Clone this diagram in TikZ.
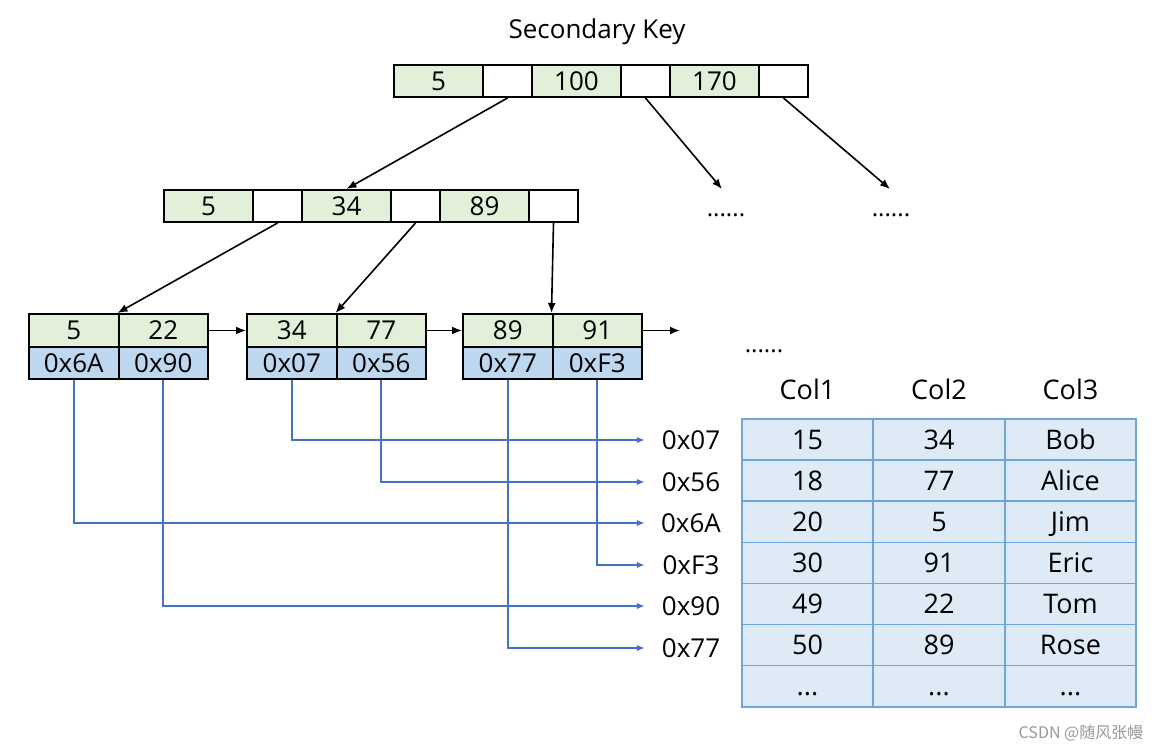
\documentclass[tikz,border=0pt]{standalone}
\usepackage{fontspec}
\setmainfont{Open Sans}
\newfontfamily\cjkfont{Noto Sans CJK SC}
\usetikzlibrary{arrows.meta}
\definecolor{kgreen}{HTML}{E2F0D9}
\definecolor{pblue}{HTML}{BDD7EE}
\definecolor{tfill}{HTML}{DEEBF7}
\definecolor{tline}{HTML}{6FA5DA}
\definecolor{lblue}{HTML}{4472C4}
\begin{document}
\begin{tikzpicture}[x=1pt,y=-1pt,
  base/.style={inner sep=0pt, text height=18.6pt, text depth=0pt, font=\fontsize{26}{30}\selectfont},
  kcell/.style={base, draw=black, line width=2pt, fill=kgreen, minimum width=89pt, minimum height=32pt},
  pcell/.style={base, draw=black, line width=2pt, fill=white, minimum width=49pt, minimum height=32pt},
  lkey/.style={base, draw=black, line width=2pt, fill=kgreen, minimum width=89.5pt, minimum height=33pt},
  lptr/.style={base, draw=black, line width=2pt, fill=pblue, minimum width=89.5pt, minimum height=32pt},
  big/.style={base, text height=19.3pt, font=\fontsize{27}{30}\selectfont},
  tcell/.style={big, draw=tline, line width=1.6pt, fill=tfill, minimum width=131.3pt, minimum height=41.1pt},
  lab/.style={base, minimum width=92pt},
  dots/.style={base, text height=17.1pt, font=\fontsize{24}{28}\selectfont},
  arr/.style={line width=1.6pt, -{Latex[length=10pt,width=8pt]}},
  barr/.style={draw=lblue, line width=1.8pt, -{Latex[length=8pt,width=6.5pt]}}
]
\useasboundingbox (0,0) rectangle (1163,752);
\fill[white] (0,0) rectangle (1163,752);

% title
\node[base, text height=18pt, font=\fontsize{26}{30}\selectfont] (title) at (597,29.5) {Secondary Key};

% root node
\node[kcell] (t-k1) at (438.5,81) {5};
\node[pcell] (t-p1) at (507.5,81) {};
\node[kcell] (t-k2) at (576.5,81) {100};
\node[pcell] (t-p2) at (645.5,81) {};
\node[kcell] (t-k3) at (714.5,81) {170};
\node[pcell] (t-p3) at (783.5,81) {};

% middle node
\node[kcell] (m-k1) at (208.5,206) {5};
\node[pcell] (m-p1) at (277.5,206) {};
\node[kcell] (m-k2) at (346.5,206) {34};
\node[pcell] (m-p2) at (415.5,206) {};
\node[kcell] (m-k3) at (484.5,206) {89};
\node[pcell] (m-p3) at (553.5,206) {};

% other branches
\coordinate (d1) at (722,189);
\coordinate (d2) at (890,189);
\node[dots] (dots1) at (726,207.5) {......};
\node[dots] (dots2) at (891,207.5) {......};

% leaves
\node[lkey] (l1-k1) at (73.75,330.5) {5};
\node[lkey] (l1-k2) at (163.25,330.5) {22};
\node[lptr] (l1-p1) at (73.75,363) {0x6A};
\node[lptr] (l1-p2) at (163.25,363) {0x90};

\node[lkey] (l2-k1) at (291.75,330.5) {34};
\node[lkey] (l2-k2) at (381.25,330.5) {77};
\node[lptr] (l2-p1) at (291.75,363) {0x07};
\node[lptr] (l2-p2) at (381.25,363) {0x56};

\node[lkey] (l3-k1) at (507.75,330.5) {89};
\node[lkey] (l3-k2) at (597.25,330.5) {91};
\node[lptr] (l3-p1) at (507.75,363) {0x77};
\node[lptr] (l3-p2) at (597.25,363) {0xF3};

\coordinate (lnext) at (680,330.5);
\node[dots] (dots3) at (764,344) {......};

% tree arrows
\draw[arr] (t-p1.south) -- (m-k2.north);
\draw[arr] (t-p2.south) -- (d1);
\draw[arr] (t-p3.south) -- (d2);
\draw[arr] (m-p1.south) -- (l1-k2.north west);
\draw[arr] (m-p2.south) -- (l2-k2.north west);
\draw[arr] (m-p3.south) -- (l3-k2.north west);
\draw[arr] (l1-k2.east) -- (l2-k1.west);
\draw[arr] (l2-k2.east) -- (l3-k1.west);
\draw[arr] (l3-k2.east) -- (lnext);

% address labels
\node[lab] (a07) at (691,440) {0x07};
\node[lab] (a56) at (691,482) {0x56};
\node[lab] (a6A) at (691,523) {0x6A};
\node[lab] (aF3) at (691,565) {0xF3};
\node[lab] (a90) at (691,606) {0x90};
\node[lab] (a77) at (691,648) {0x77};

\draw[barr] (l2-p1.south) |- (a07.west);
\draw[barr] (l2-p2.south) |- (a56.west);
\draw[barr] (l1-p1.south) |- (a6A.west);
\draw[barr] (l3-p2.south) |- (aF3.west);
\draw[barr] (l1-p2.south) |- (a90.west);
\draw[barr] (l3-p1.south) |- (a77.west);

% table headers
\node[big] (h1) at (807.5,389.5) {Col1};
\node[big] (h2) at (939,389.5) {Col2};
\node[big] (h3) at (1070.5,389.5) {Col3};

% table
\foreach \r/\a/\b/\c in {1/15/34/Bob, 2/18/77/Alice, 3/20/5/Jim, 4/30/91/Eric, 5/49/22/Tom, 6/50/89/Rose}{
  \node[tcell] (c\r-1) at (807.5,{419+41.1*(\r-0.5)}) {\a};
  \node[tcell] (c\r-2) at (939,{419+41.1*(\r-0.5)}) {\b};
  \node[tcell] (c\r-3) at (1070.5,{419+41.1*(\r-0.5)}) {\c};
}
\node[tcell] (c7-1) at (807.5,686.15) {...};
\node[tcell] (c7-2) at (939,686.15) {...};
\node[tcell] (c7-3) at (1070.5,686.15) {...};

% watermark
\node[font=\cjkfont\fontsize{16}{18}\selectfont, text=black!40, inner sep=0pt] (wm) at (1081,733) {CSDN @随风张幔};
\end{tikzpicture}
\end{document}
